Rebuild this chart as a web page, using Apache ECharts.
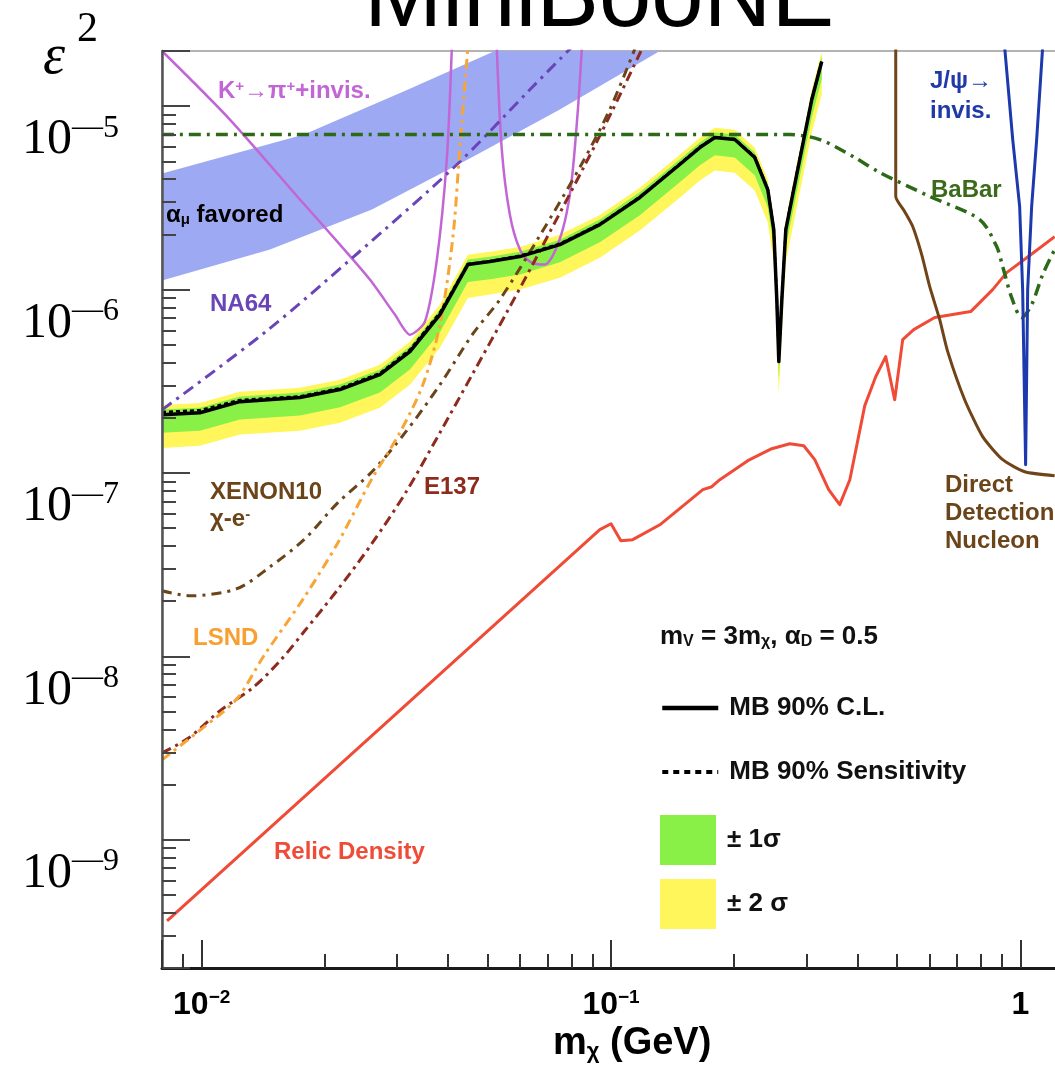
<!DOCTYPE html>
<html><head><meta charset="utf-8"><title>MiniBooNE</title>
<script src="https://cdn.jsdelivr.net/npm/echarts@6.0.0/dist/echarts.min.js"></script>
<style>html,body{margin:0;padding:0;background:#fff;overflow:hidden}#chart{width:1055px;height:1070px}</style>
</head><body><div id="chart"></div>
<script>
// ---------------- axis ranges / ticks ----------------
const xRange = [0.008, 1.3];
const yRange = [2e-10, 2e-5];
const xMinorTicks = [0.009, 0.02, 0.03, 0.04, 0.05, 0.06, 0.07, 0.08, 0.09, 0.2, 0.3, 0.4, 0.5, 0.6, 0.7, 0.8, 0.9];
const yMinorMant = [2, 3, 4, 5, 6, 7, 8, 9];
const yMinorDecades = [-10, -9, -8, -7, -6];

// ---------------- MiniBooNE result ----------------
const mbX = [0.008, 0.0099, 0.0124, 0.01738, 0.02177, 0.02725, 0.03226, 0.0382, 0.0447, 0.0506, 0.0599, 0.075, 0.0939, 0.1176, 0.1472, 0.1648, 0.1793, 0.2006, 0.2245, 0.2415, 0.2498, 0.2541, 0.257, 0.2614, 0.2673, 0.2764, 0.2891, 0.3094, 0.3272];
const mbCL = [2.08e-7, 2.13e-7, 2.45e-7, 2.58e-7, 2.85e-7, 3.44e-7, 4.59e-7, 7.31e-7, 1.369e-6, 1.422e-6, 1.514e-6, 1.76e-6, 2.26e-6, 3.18e-6, 4.81e-6, 5.95e-6, 6.75e-6, 6.58e-6, 5.25e-6, 3.51e-6, 2.12e-6, 8.82e-7, 4.05e-7, 8.82e-7, 2.12e-6, 3.10e-6, 5.12e-6, 1.088e-5, 1.753e-5];
const mbSens = [2.15e-7, 2.2e-7, 2.5e-7, 2.62e-7, 2.9e-7, 3.5e-7, 4.7e-7, 7.5e-7, 1.38e-6, 1.43e-6, 1.53e-6, 1.78e-6, 2.28e-6, 3.2e-6, 4.85e-6, 6.0e-6, 6.8e-6, 6.62e-6, 5.3e-6, 3.55e-6, 2.15e-6, 9.0e-7, 4.2e-7, 9.0e-7, 2.15e-6, 3.15e-6, 5.2e-6, 1.1e-5, 1.77e-5];
const band2Hi = [2.35e-7, 2.41e-7, 2.77e-7, 2.92e-7, 3.22e-7, 3.89e-7, 5.19e-7, 8.26e-7, 1.55e-6, 1.61e-6, 1.71e-6, 1.99e-6, 2.55e-6, 3.59e-6, 5.44e-6, 6.72e-6, 7.63e-6, 7.44e-6, 5.93e-6, 3.97e-6, 2.40e-6, 9.97e-7, 4.58e-7, 9.97e-7, 2.40e-6, 3.50e-6, 5.79e-6, 1.23e-5, 1.98e-5];
const band1Hi = [2.22e-7, 2.27e-7, 2.61e-7, 2.75e-7, 3.04e-7, 3.66e-7, 4.89e-7, 7.79e-7, 1.46e-6, 1.51e-6, 1.61e-6, 1.87e-6, 2.41e-6, 3.39e-6, 5.12e-6, 6.34e-6, 7.19e-6, 7.01e-6, 5.59e-6, 3.74e-6, 2.26e-6, 9.39e-7, 4.31e-7, 9.39e-7, 2.26e-6, 3.30e-6, 5.45e-6, 1.16e-5, 1.87e-5];
const band1Lo = [1.66e-7, 1.70e-7, 1.96e-7, 2.06e-7, 2.28e-7, 2.75e-7, 3.67e-7, 5.85e-7, 1.10e-6, 1.14e-6, 1.21e-6, 1.41e-6, 1.81e-6, 2.54e-6, 3.85e-6, 4.76e-6, 5.40e-6, 5.26e-6, 4.20e-6, 2.81e-6, 1.70e-6, 7.06e-7, 3.24e-7, 7.06e-7, 1.70e-6, 2.48e-6, 4.10e-6, 8.70e-6, 1.40e-5];
const band2Lo = [1.37e-7, 1.41e-7, 1.62e-7, 1.70e-7, 1.88e-7, 2.27e-7, 3.03e-7, 4.82e-7, 9.0e-7, 9.4e-7, 1.0e-6, 1.16e-6, 1.49e-6, 2.10e-6, 3.17e-6, 3.93e-6, 4.46e-6, 4.34e-6, 3.47e-6, 2.32e-6, 1.40e-6, 5.82e-7, 2.67e-7, 5.82e-7, 1.40e-6, 2.05e-6, 3.38e-6, 7.18e-6, 1.16e-5];

// ---------------- a_mu favored band ----------------
const amuUpX = [0.008, 0.01778, 0.03154, 0.052, 0.1316];
const amuUp = [4.3e-6, 7.01e-6, 1.218e-5, 2.0e-5, 6.3e-5];
const amuLoX = [0.008, 0.01469, 0.02606, 0.046, 0.075, 0.1316];
const amuLo = [1.12e-6, 1.653e-6, 2.73e-6, 5.31e-6, 9.59e-6, 2.0e-5];

// ---------------- other limits ----------------
const relicX = [0.00823, 0.0939, 0.1, 0.1057, 0.113, 0.1316, 0.1676, 0.1763, 0.1844, 0.2158, 0.247, 0.2733, 0.2957, 0.3146, 0.3402, 0.362, 0.3832, 0.4168, 0.4432, 0.4689, 0.4932, 0.5159, 0.5489, 0.6177, 0.6835, 0.7562, 0.8557, 0.9259, 1.054, 1.213];
const relicY = [3.61e-10, 4.91e-8, 5.29e-8, 4.27e-8, 4.33e-8, 5.22e-8, 8.11e-8, 8.42e-8, 9.19e-8, 1.167e-7, 1.357e-7, 1.444e-7, 1.409e-7, 1.182e-7, 8.11e-8, 6.72e-8, 9.19e-8, 2.33e-7, 3.35e-7, 4.31e-7, 2.51e-7, 5.34e-7, 6.05e-7, 7.04e-7, 7.31e-7, 7.59e-7, 1.0e-6, 1.238e-6, 1.533e-6, 1.945e-6];

const kpiX1 = [0.008, 0.01172, 0.01738, 0.02177, 0.02576, 0.02965, 0.03226, 0.0351, 0.03755, 0.0397, 0.04085];
const kpiY1 = [2.0e-5, 8.46e-6, 3.10e-6, 1.76e-6, 1.134e-6, 7.31e-7, 5.68e-7, 6.69e-7, 1.458e-6, 5.12e-6, 2.1e-5];
const kpiX2 = [0.0526, 0.0541, 0.0566, 0.0599, 0.0634, 0.0689, 0.0729, 0.0771, 0.0802, 0.083, 0.0849];
const kpiY2 = [2.1e-5, 5.80e-6, 2.57e-6, 1.653e-6, 1.422e-6, 1.369e-6, 1.612e-6, 2.35e-6, 3.98e-6, 9.59e-6, 2.1e-5];

const na64X = [0.008, 0.01444, 0.02368, 0.0418, 0.0634, 0.0802];
const na64Y = [2.21e-7, 5.97e-7, 1.533e-6, 4.75e-6, 1.233e-5, 2.1e-5];

const xenonX = [0.008, 0.00936, 0.01219, 0.01469, 0.01778, 0.02152, 0.02606, 0.03154, 0.0382, 0.046, 0.0535, 0.067, 0.0844, 0.0993, 0.1143];
const xenonY = [2.28e-8, 2.14e-8, 2.34e-8, 3.08e-8, 4.33e-8, 6.89e-8, 1.016e-7, 1.68e-7, 3.03e-7, 5.75e-7, 8.82e-7, 1.97e-6, 4.75e-6, 9.59e-6, 2.05e-5];

const e137X = [0.008, 0.00931, 0.01108, 0.01342, 0.01562, 0.01778, 0.02152, 0.02606, 0.03154, 0.0382, 0.046, 0.0557, 0.0652, 0.0863, 0.1005, 0.119];
const e137Y = [2.98e-9, 3.60e-9, 5.05e-9, 6.83e-9, 9.58e-9, 1.362e-8, 2.32e-8, 4.13e-8, 7.85e-8, 1.66e-7, 3.50e-7, 7.55e-7, 1.447e-6, 4.77e-6, 9.36e-6, 2.05e-5];

const lsndX = [0.008, 0.01007, 0.01219, 0.01419, 0.01778, 0.02152, 0.02606, 0.0303, 0.0347, 0.0382, 0.0411, 0.0427, 0.0447];
const lsndY = [2.73e-9, 4.08e-9, 5.87e-9, 1.008e-8, 2.09e-8, 4.17e-8, 9.31e-8, 1.618e-7, 3.03e-7, 6.44e-7, 1.945e-6, 5.80e-6, 2.1e-5];

const babarX = [0.008, 0.2733, 0.3236, 0.3939, 0.4534, 0.6006, 0.7956, 0.8752, 0.9054, 0.9524, 1.0074, 1.0656, 1.1336, 1.213];
const babarY = [7.0e-6, 7.0e-6, 6.58e-6, 5.25e-6, 4.35e-6, 3.22e-6, 2.41e-6, 1.716e-6, 1.335e-6, 9.04e-7, 7.04e-7, 8.28e-7, 1.207e-6, 1.653e-6];

const ddX = [0.4961, 0.4961, 0.5218, 0.5458, 0.5741, 0.6006, 0.6353, 0.6645, 0.7311, 0.8089, 0.9054, 1.025, 1.213];
const ddY = [2.1e-5, 3.22e-6, 2.66e-6, 2.21e-6, 1.552e-6, 1.038e-6, 6.86e-7, 4.59e-7, 2.51e-7, 1.578e-7, 1.182e-7, 1.016e-7, 9.67e-8];

const jpsiX = [0.9155, 0.958, 0.996, 1.013, 1.030, 1.042, 1.0656, 1.096, 1.1336];
const jpsiY = [2.1e-5, 6.58e-6, 2.84e-6, 1.0e-6, 1.11e-7, 1.0e-6, 2.84e-6, 6.58e-6, 2.1e-5];

// ---------------- helpers ----------------
const SANS = 'Liberation Sans';
const SERIF = 'Liberation Serif';
const pairs = (xs, ys) => xs.map((x, i) => [x, ys[i]]);
const yMinorTicks = [];
yMinorDecades.forEach(d => yMinorMant.forEach(m => { const v = m * Math.pow(10, d); if (v > yRange[0] * 1.01 && v < yRange[1] * 0.99) yMinorTicks.push(v); }));

function lineSeries(name, xs, ys, color, width, type, smooth, z) {
  return {
    type: 'line', name, data: pairs(xs, ys), symbol: 'none', showSymbol: false,
    smooth: smooth || false, silent: true, z: z || 3,
    lineStyle: { color, width, type: type || 'solid', cap: 'butt', join: 'round' },
    itemStyle: { color },
    emphasis: { disabled: true }
  };
}
function bandSeries(name, upX, up, loX, lo, color, z) {
  return {
    type: 'custom', name, clip: true, silent: true, z: z || 2,
    itemStyle: { color },
    data: [[upX[0], up[0]]],
    renderItem: (params, api) => {
      const pts = [];
      for (let i = 0; i < upX.length; i++) pts.push(api.coord([upX[i], up[i]]));
      for (let i = loX.length - 1; i >= 0; i--) pts.push(api.coord([loX[i], lo[i]]));
      return { type: 'polygon', shape: { points: pts }, style: { fill: color } };
    }
  };
}
function tok(size, color, extra) {
  return Object.assign({ fontSize: size, fontWeight: 'bold', fontFamily: SANS, fill: color }, extra || {});
}
function T(x, y, text, color, size, rich) {
  const st = { text, fill: color, fontSize: size, fontWeight: 'bold', fontFamily: SANS, verticalAlign: 'middle', align: 'left' };
  if (rich) st.rich = rich;
  return { type: 'text', x, y, silent: true, z: 60, style: st };
}
function isDecade(v) { const l = Math.log10(v); return Math.abs(l - Math.round(l)) < 1e-6; }

const chart = echarts.init(document.getElementById('chart'), null, { renderer: 'canvas' });

const legendText = { fontSize: 26, fontWeight: 'bold', fontFamily: SANS, color: '#111', padding: [0, 0, 0, 6] };

const option = {
  animation: false,
  backgroundColor: '#fff',
  grid: { left: 162, top: 51, right: -12, bottom: 102, show: true, borderColor: '#9a9a9a', borderWidth: 1.5, backgroundColor: 'transparent', outerBoundsMode: 'none', containLabel: false },
  xAxis: [
    {
      type: 'log', logBase: 10, min: xRange[0], max: xRange[1], position: 'bottom', z: 20,
      axisLine: { show: true, onZero: false, lineStyle: { color: '#1a1a1a', width: 3 } },
      axisTick: { show: true, inside: true, length: 28, lineStyle: { color: '#333', width: 2 } },
      minorTick: { show: false }, splitLine: { show: false }, minorSplitLine: { show: false },
      axisLabel: {
        margin: 20,
        formatter: v => { if (!isDecade(v)) return ''; const e = Math.round(Math.log10(v)); return e === 0 ? '{b|1}' : '{b|10}{s|\u2212' + (-e) + '}'; },
        rich: {
          b: { fontSize: 32, fontWeight: 'bold', fontFamily: SANS, color: '#000', lineHeight: 34 },
          s: { fontSize: 19, fontWeight: 'bold', fontFamily: SANS, color: '#000', verticalAlign: 'top', lineHeight: 16 }
        }
      }
    },
    {
      type: 'value', min: Math.log10(xRange[0]), max: Math.log10(xRange[1]), position: 'bottom', z: 20,
      axisLine: { show: false, onZero: false },
      axisTick: { show: true, inside: true, length: 14, customValues: xMinorTicks.map(v => Math.log10(v)), lineStyle: { color: '#333', width: 2 } },
      axisLabel: { show: false }, splitLine: { show: false }
    }
  ],
  yAxis: [
    {
      type: 'log', logBase: 10, min: yRange[0], max: yRange[1], position: 'left', z: 20,
      axisLine: { show: true, onZero: false, lineStyle: { color: '#555', width: 2.5 } },
      axisTick: { show: true, inside: true, length: 28, lineStyle: { color: '#444', width: 2 } },
      minorTick: { show: false }, splitLine: { show: false }, minorSplitLine: { show: false },
      axisLabel: {
        margin: 43, padding: [68, 0, 0, 0],
        formatter: v => { if (!isDecade(v)) return ''; const e = Math.round(Math.log10(v)); return '{b|10}{m|\u2014}{s|' + (-e) + '}'; },
        rich: {
          b: { fontSize: 50, fontFamily: SERIF, color: '#000', lineHeight: 56 },
          m: { fontSize: 31, fontFamily: SERIF, color: '#000', verticalAlign: 'top', lineHeight: 24 },
          s: { fontSize: 32, fontFamily: SERIF, color: '#000', verticalAlign: 'top', lineHeight: 22 }
        }
      }
    },
    {
      type: 'value', min: Math.log10(yRange[0]), max: Math.log10(yRange[1]), position: 'left', z: 20,
      axisLine: { show: false, onZero: false },
      axisTick: { show: true, inside: true, length: 14, customValues: yMinorTicks.map(v => Math.log10(v)), lineStyle: { color: '#444', width: 2 } },
      axisLabel: { show: false }, splitLine: { show: false }
    }
  ],
  legend: [
    {
      left: 655, top: 683, orient: 'vertical', selectedMode: false,
      itemWidth: 56, itemHeight: 50, itemGap: 24, textStyle: legendText,
      data: [
        { name: 'MB 90% C.L.', itemStyle: { opacity: 0 }, lineStyle: { width: 4.5, type: 'solid', color: '#000' } },
        { name: 'MB 90% Sensitivity', itemStyle: { opacity: 0 }, lineStyle: { width: 4, type: [6, 5], color: '#000' } }
      ]
    },
    {
      left: 655, top: 810, orient: 'vertical', selectedMode: false,
      itemWidth: 56, itemHeight: 50, itemGap: 14, textStyle: legendText,
      data: [
        { name: '\u00b1 1\u03c3', icon: 'rect' },
        { name: '\u00b1 2 \u03c3', icon: 'rect' }
      ]
    }
  ],
  series: [
    bandSeries('a_mu favored', amuUpX, amuUp, amuLoX, amuLo, '#9ea9f3', 1),
    bandSeries('\u00b1 2 \u03c3', mbX, band2Hi, mbX, band2Lo, '#fff65c', 2),
    bandSeries('\u00b1 1\u03c3', mbX, band1Hi, mbX, band1Lo, '#88f046', 2),
    lineSeries('Relic Density', relicX, relicY, '#f04b37', 3, 'solid', false),
    lineSeries('K+', kpiX1, kpiY1, '#c266d6', 2.5, 'solid', 0.25),
    lineSeries('K+ b', kpiX2, kpiY2, '#c266d6', 2.5, 'solid', 0.3),
    lineSeries('NA64', na64X, na64Y, '#6a45b8', 3, [12, 6, 3, 6], 0.3),
    lineSeries('XENON10', xenonX, xenonY, '#6b4419', 3, [10, 6, 3, 6], 0.3),
    lineSeries('E137', e137X, e137Y, '#8e2b1f', 3, [10, 5, 3, 5], 0.3),
    lineSeries('LSND', lsndX, lsndY, '#f7a535', 3, [10, 5, 3, 5], 0.3),
    lineSeries('BaBar', babarX, babarY, '#2d6a17', 3.5, [12, 6, 3, 6], 0.3),
    lineSeries('Direct Detection Nucleon', ddX, ddY, '#704418', 3, 'solid', 0.2),
    lineSeries('J/psi invis', jpsiX, jpsiY, '#1c39ad', 3, 'solid', false),
    lineSeries('MB 90% Sensitivity', mbX, mbSens, '#000', 2.5, [4, 3], false, 4),
    lineSeries('MB 90% C.L.', mbX, mbCL, '#000', 3.5, 'solid', false, 5)
  ],
  graphic: [
    { type: 'text', x: 364, y: 0, silent: true, style: { text: 'MiniBooNE', fill: '#000', fontSize: 94, fontFamily: SANS, verticalAlign: 'middle', align: 'left' } },
    { type: 'text', x: 43, y: 58, silent: true, style: { text: '\u03b5', fill: '#000', fontSize: 56, fontStyle: 'italic', fontFamily: SERIF, verticalAlign: 'middle', align: 'left' } },
    { type: 'text', x: 77, y: 30, silent: true, style: { text: '2', fill: '#000', fontSize: 42, fontFamily: SERIF, verticalAlign: 'middle', align: 'left' } },
    T(553, 1044, '{a|m}{u|\u03c7}{a| (GeV)}', '#000', 38, { a: tok(38, '#000'), u: tok(22, '#000', { verticalAlign: 'bottom', lineHeight: 30 }) }),
    T(218, 91, '{a|K}{p|+}{a|\u2192\u03c0}{p|+}{a|+invis.}', '#c266d6', 24, { a: tok(24, '#c266d6'), p: tok(15, '#c266d6', { verticalAlign: 'top', lineHeight: 14 }) }),
    T(166, 215, '{a|\u03b1}{u|\u03bc}{a| favored}', '#000', 24, { a: tok(24, '#000'), u: tok(15, '#000', { verticalAlign: 'bottom', lineHeight: 12 }) }),
    T(210, 304, 'NA64', '#6a45b8', 24),
    T(210, 492, 'XENON10', '#6b4419', 24),
    T(210, 519, '{a|\u03c7-e}{p|-}', '#6b4419', 24, { a: tok(24, '#6b4419'), p: tok(15, '#6b4419', { verticalAlign: 'top', lineHeight: 14 }) }),
    T(424, 487, 'E137', '#8e2b1f', 24),
    T(193, 638, 'LSND', '#f7a030', 24),
    T(274, 852, 'Relic Density', '#f04b37', 24),
    T(931, 190, 'BaBar', '#3b6a1b', 24),
    T(930, 81, 'J/\u03c8\u2192', '#1f3aa8', 24),
    T(930, 111, 'invis.', '#1f3aa8', 24),
    T(945, 485, 'Direct', '#6b4419', 24),
    T(945, 513, 'Detection', '#6b4419', 24),
    T(945, 541, 'Nucleon', '#6b4419', 24),
    T(660, 637, '{a|m}{u|V}{a| = 3m}{u|\u03c7}{a|, \u03b1}{u|D}{a| = 0.5}', '#111', 26, { a: tok(26, '#111'), u: tok(16, '#111', { verticalAlign: 'bottom', lineHeight: 14 }) })
  ]
};
chart.setOption(option);
</script>
</body></html>
